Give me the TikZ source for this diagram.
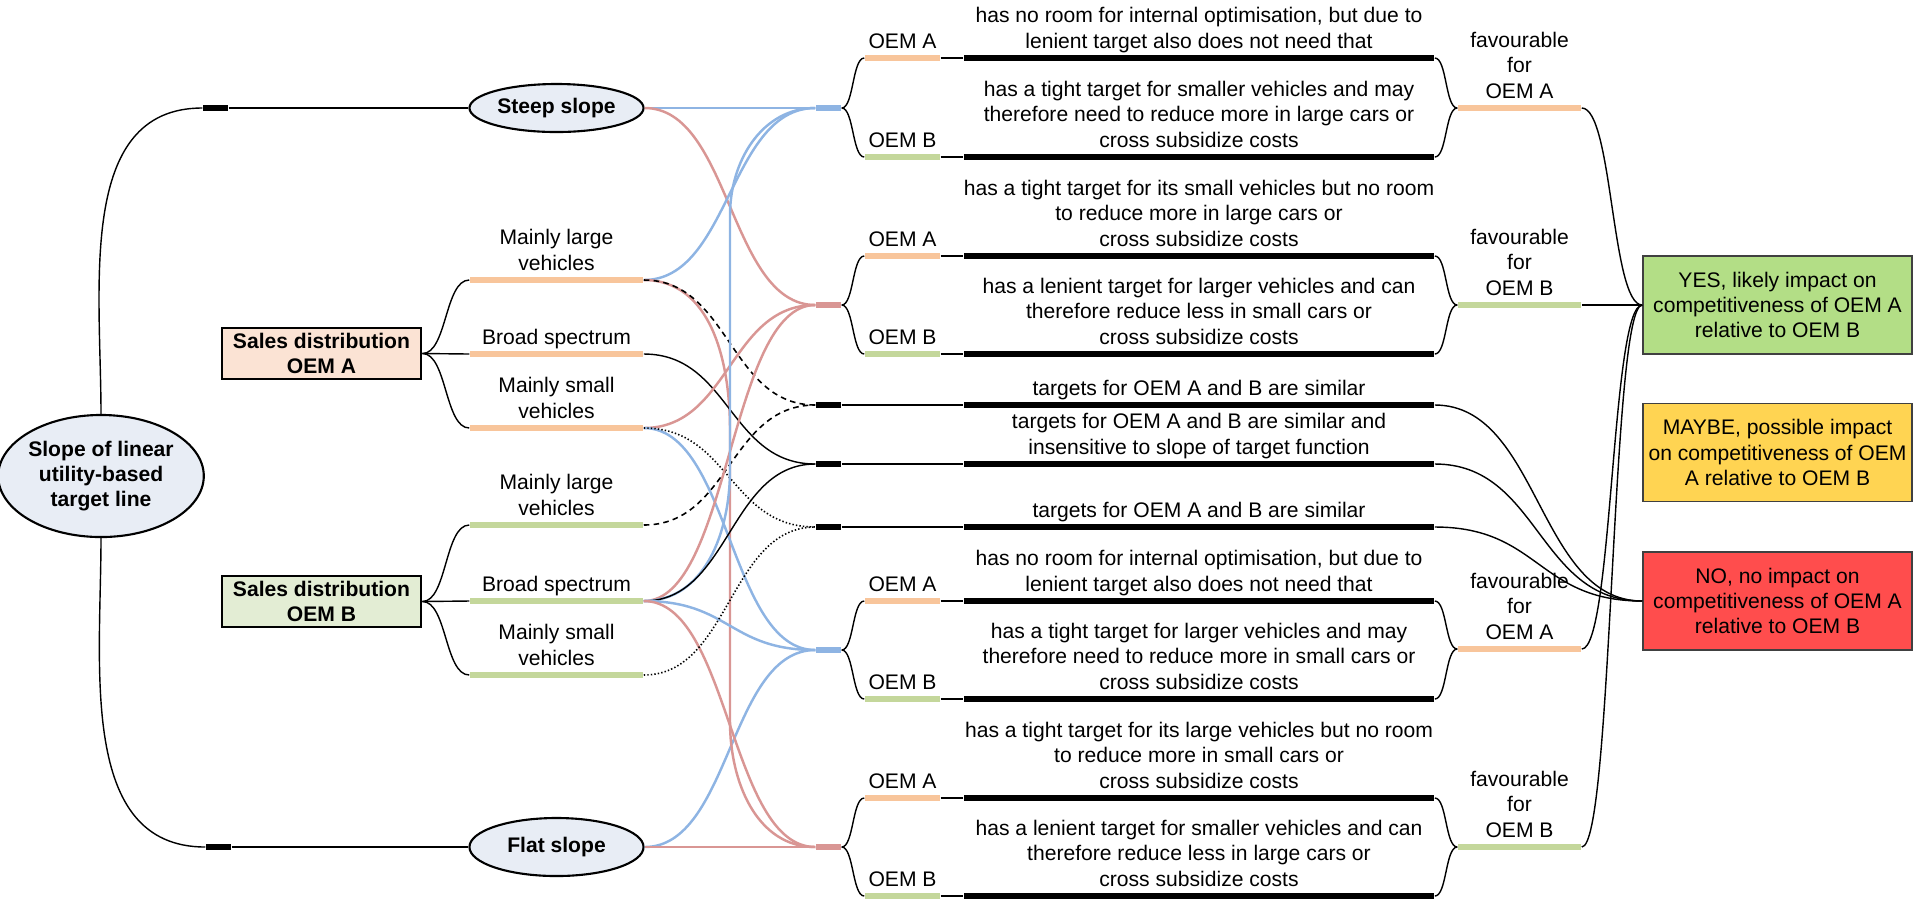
\documentclass[tikz,border=0pt]{standalone}
\usepackage{fontspec}
\setmainfont{Liberation Sans}
\usetikzlibrary{positioning,shapes.geometric}

\definecolor{ellfill}{HTML}{E8EDF5}
\definecolor{peach}{HTML}{F8C59B}
\definecolor{peachfill}{HTML}{FBE3D4}
\definecolor{leaf}{HTML}{C4D79B}
\definecolor{leaffill}{HTML}{E3EDD4}
\definecolor{bluec}{HTML}{8EB4E3}
\definecolor{redc}{HTML}{D99694}
\definecolor{yesfill}{HTML}{B3DE86}
\definecolor{maybefill}{HTML}{FFD452}
\definecolor{nofill}{HTML}{FF4D4D}

\begin{document}
\begin{tikzpicture}[x=0.01cm, y=-0.01cm,
    every node/.style={font=\fontsize{6}{7.2}\selectfont},
    txt/.style={align=center, inner sep=0pt, execute at end node=\strut},
    bar/.style={rectangle, inner sep=0pt, minimum height=0.055cm, fill=#1},
    ell/.style={ellipse, draw, line width=0.6pt, fill=ellfill, inner sep=0pt, align=center, font=\fontsize{6}{7}\selectfont\bfseries},
    sales/.style={rectangle, draw, line width=0.8pt, minimum width=1.99cm, minimum height=0.51cm, inner sep=0pt, align=center, font=\fontsize{6}{7}\selectfont\bfseries},
    res/.style={rectangle, draw=black!75, line width=0.4pt, minimum width=2.69cm, minimum height=0.98cm, inner sep=0pt, align=center},
    hs/.style={out=0, in=180, distance=#1},
    conn/.style={line width=0.4pt},
    dashlink/.style={line width=0.45pt, dash pattern=on 1.6pt off 1.2pt},
    dotlink/.style={line width=0.45pt, dash pattern=on 0.4pt off 0.6pt},
    bluelink/.style={line width=0.7pt, bluec},
    redlink/.style={line width=0.7pt, redc}]

    \useasboundingbox (0,0) rectangle (1913,899);

    % Slope of target line
    \node[ell, minimum width=1.97cm, minimum height=1.22cm] (root) at (101,476) {Slope of linear\\utility-based\\target line};
    \node[bar=black, minimum width=0.25cm, minimum height=0.06cm] (s1) at (215.5,108) {};
    \node[bar=black, minimum width=0.25cm, minimum height=0.06cm] (s2) at (218.5,847) {};
    \node[ell, minimum width=1.74cm, minimum height=0.48cm] (steep) at (556.5,108) {Steep slope};
    \node[ell, minimum width=1.74cm, minimum height=0.58cm] (flat) at (556.5,847) {Flat slope};
    \draw[conn] (root.north) to[out=90, in=180] (s1.west);
    \draw[conn] (s1.east) -- (steep.west);
    \draw[conn] (root.south) to[out=-90, in=180] (s2.west);
    \draw[conn] (s2.east) -- (flat.west);

    % Sales distribution OEM A
    \node[sales, fill=peachfill] (sa) at (321.5,353.5) {Sales distribution\\OEM A};
    \node[bar=peach, minimum width=1.73cm] (aL) at (556.5,280) {};
    \node[bar=peach, minimum width=1.73cm] (aB) at (556.5,354) {};
    \node[bar=peach, minimum width=1.73cm] (aS) at (556.5,428) {};
    \node[txt, above=-0.02cm of aL] (aLt) {Mainly large\\vehicles};
    \node[txt, above=-0.02cm of aB] (aBt) {Broad spectrum};
    \node[txt, above=-0.02cm of aS] (aSt) {Mainly small\\vehicles};
    \draw[conn] (sa.east) to[hs=0.245cm] (aL.west);
    \draw[conn] (sa.east) -- (aB.west);
    \draw[conn] (sa.east) to[hs=0.245cm] (aS.west);

    % Sales distribution OEM B
    \node[sales, fill=leaffill] (sb) at (321.5,601.5) {Sales distribution\\OEM B};
    \node[bar=leaf, minimum width=1.73cm] (bL) at (556.5,525) {};
    \node[bar=leaf, minimum width=1.73cm] (bB) at (556.5,601) {};
    \node[bar=leaf, minimum width=1.73cm] (bS) at (556.5,675) {};
    \node[txt, above=-0.02cm of bL] (bLt) {Mainly large\\vehicles};
    \node[txt, above=-0.02cm of bB] (bBt) {Broad spectrum};
    \node[txt, above=-0.02cm of bS] (bSt) {Mainly small\\vehicles};
    \draw[conn] (sb.east) to[hs=0.245cm] (bL.west);
    \draw[conn] (sb.east) -- (bB.west);
    \draw[conn] (sb.east) to[hs=0.245cm] (bS.west);

    % Junctions
    \node[bar=bluec, minimum width=0.25cm, minimum height=0.065cm] (j1) at (828.5,108) {};
    \node[bar=redc, minimum width=0.25cm, minimum height=0.065cm] (j2) at (828.5,305) {};
    \node[bar=black, minimum width=0.25cm, minimum height=0.065cm] (j3) at (828.5,405) {};
    \node[bar=black, minimum width=0.25cm, minimum height=0.065cm] (j4) at (828.5,464) {};
    \node[bar=black, minimum width=0.25cm, minimum height=0.065cm] (j5) at (828.5,527) {};
    \node[bar=bluec, minimum width=0.25cm, minimum height=0.065cm] (j6) at (828.5,650) {};
    \node[bar=redc, minimum width=0.25cm, minimum height=0.065cm] (j7) at (828.5,847) {};

    % Links into the junctions
    \draw[bluelink] (steep.east) -- (j1.west);
    \draw[redlink] (steep.east) to[hs=0.86cm] (j2.west);
    \draw[bluelink] (flat.east) to[hs=0.86cm] (j6.west);
    \draw[redlink] (flat.east) -- (j7.west);
    \draw[bluelink] (aL.east) to[hs=0.86cm] (j1.west);
    \draw[redlink] (aL.east) to[out=0, in=90] (730,430) -- (730,722) to[out=-90, in=180] (j7.west);
    \draw[dashlink] (aL.east) to[hs=0.86cm] (j3.west);
    \draw[conn] (aB.east) to[hs=0.86cm] (j4.west);
    \draw[redlink] (aS.east) to[hs=0.86cm] (j2.west);
    \draw[bluelink] (aS.east) to[hs=0.86cm] (j6.west);
    \draw[dotlink] (aS.east) to[hs=0.86cm] (j5.west);
    \draw[dashlink] (bL.east) to[hs=0.86cm] (j3.west);
    \draw[redlink] (bB.east) to[hs=0.86cm] (j2.west);
    \draw[bluelink] (bB.east) to[out=0, in=-90] (730,470) -- (730,215) to[out=90, in=180] (j1.west);
    \draw[conn] (bB.east) to[hs=0.86cm] (j4.west);
    \draw[bluelink] (bB.east) to[hs=0.86cm] (j6.west);
    \draw[redlink] (bB.east) to[hs=0.86cm] (j7.west);
    \draw[dotlink] (bS.east) to[hs=0.86cm] (j5.west);

    % OEM bars
    \node[bar=peach, minimum width=0.75cm] (oa1) at (902.5,58) {};
    \node[bar=leaf, minimum width=0.75cm] (ob1) at (902.5,157) {};
    \node[bar=peach, minimum width=0.75cm] (oa2) at (902.5,256) {};
    \node[bar=leaf, minimum width=0.75cm] (ob2) at (902.5,354) {};
    \node[bar=peach, minimum width=0.75cm] (oa3) at (902.5,601) {};
    \node[bar=leaf, minimum width=0.75cm] (ob3) at (902.5,699) {};
    \node[bar=peach, minimum width=0.75cm] (oa4) at (902.5,798) {};
    \node[bar=leaf, minimum width=0.75cm] (ob4) at (902.5,896) {};
    \node[txt, above=-0.02cm of oa1] (oa1t) {OEM A};
    \node[txt, above=-0.02cm of ob1] (ob1t) {OEM B};
    \node[txt, above=-0.02cm of oa2] (oa2t) {OEM A};
    \node[txt, above=-0.02cm of ob2] (ob2t) {OEM B};
    \node[txt, above=-0.02cm of oa3] (oa3t) {OEM A};
    \node[txt, above=-0.02cm of ob3] (ob3t) {OEM B};
    \node[txt, above=-0.02cm of oa4] (oa4t) {OEM A};
    \node[txt, above=-0.02cm of ob4] (ob4t) {OEM B};
    \draw[conn] (j1.east) to[hs=0.12cm] (oa1.west);
    \draw[conn] (j1.east) to[hs=0.12cm] (ob1.west);
    \draw[conn] (j2.east) to[hs=0.12cm] (oa2.west);
    \draw[conn] (j2.east) to[hs=0.12cm] (ob2.west);
    \draw[conn] (j6.east) to[hs=0.12cm] (oa3.west);
    \draw[conn] (j6.east) to[hs=0.12cm] (ob3.west);
    \draw[conn] (j7.east) to[hs=0.12cm] (oa4.west);
    \draw[conn] (j7.east) to[hs=0.12cm] (ob4.west);

    % Statements
    \node[bar=black, minimum width=4.70cm, minimum height=0.06cm] (ka1) at (1199,58) {};
    \node[bar=black, minimum width=4.70cm, minimum height=0.06cm] (kb1) at (1199,157) {};
    \node[bar=black, minimum width=4.70cm, minimum height=0.06cm] (ka2) at (1199,256) {};
    \node[bar=black, minimum width=4.70cm, minimum height=0.06cm] (kb2) at (1199,354) {};
    \node[bar=black, minimum width=4.70cm, minimum height=0.06cm] (k3) at (1199,405) {};
    \node[bar=black, minimum width=4.70cm, minimum height=0.06cm] (k4) at (1199,464) {};
    \node[bar=black, minimum width=4.70cm, minimum height=0.06cm] (k5) at (1199,527) {};
    \node[bar=black, minimum width=4.70cm, minimum height=0.06cm] (ka3) at (1199,601) {};
    \node[bar=black, minimum width=4.70cm, minimum height=0.06cm] (kb3) at (1199,699) {};
    \node[bar=black, minimum width=4.70cm, minimum height=0.06cm] (ka4) at (1199,798) {};
    \node[bar=black, minimum width=4.70cm, minimum height=0.06cm] (kb4) at (1199,896) {};
    \node[txt, above=-0.02cm of ka1] (ka1t) {has no room for internal optimisation, but due to\\lenient target also does not need that};
    \node[txt, above=-0.02cm of kb1] (kb1t) {has a tight target for smaller vehicles and may\\therefore need to reduce more in large cars or\\cross subsidize costs};
    \node[txt, above=-0.02cm of ka2] (ka2t) {has a tight target for its small vehicles but no room\\to reduce more in large cars or\\cross subsidize costs};
    \node[txt, above=-0.02cm of kb2] (kb2t) {has a lenient target for larger vehicles and can\\therefore reduce less in small cars or\\cross subsidize costs};
    \node[txt, above=-0.02cm of k3] (k3t) {targets for OEM A and B are similar};
    \node[txt, above=-0.02cm of k4] (k4t) {targets for OEM A and B are similar and\\insensitive to slope of target function};
    \node[txt, above=-0.02cm of k5] (k5t) {targets for OEM A and B are similar};
    \node[txt, above=-0.02cm of ka3] (ka3t) {has no room for internal optimisation, but due to\\lenient target also does not need that};
    \node[txt, above=-0.02cm of kb3] (kb3t) {has a tight target for larger vehicles and may\\therefore need to reduce more in small cars or\\cross subsidize costs};
    \node[txt, above=-0.02cm of ka4] (ka4t) {has a tight target for its large vehicles but no room\\to reduce more in small cars or\\cross subsidize costs};
    \node[txt, above=-0.02cm of kb4] (kb4t) {has a lenient target for smaller vehicles and can\\therefore reduce less in large cars or\\cross subsidize costs};
    \draw[conn] (oa1.east) -- (ka1.west);
    \draw[conn] (ob1.east) -- (kb1.west);
    \draw[conn] (oa2.east) -- (ka2.west);
    \draw[conn] (ob2.east) -- (kb2.west);
    \draw[conn] (j3.east) -- (k3.west);
    \draw[conn] (j4.east) -- (k4.west);
    \draw[conn] (j5.east) -- (k5.west);
    \draw[conn] (oa3.east) -- (ka3.west);
    \draw[conn] (ob3.east) -- (kb3.west);
    \draw[conn] (oa4.east) -- (ka4.west);
    \draw[conn] (ob4.east) -- (kb4.west);

    % Favourable for
    \node[bar=peach, minimum width=1.23cm] (fa1) at (1519.5,108) {};
    \node[bar=leaf, minimum width=1.23cm] (fb1) at (1519.5,305) {};
    \node[bar=peach, minimum width=1.23cm] (fa2) at (1519.5,649) {};
    \node[bar=leaf, minimum width=1.23cm] (fb2) at (1519.5,847) {};
    \node[txt, above=-0.02cm of fa1] (fa1t) {favourable\\for\\OEM A};
    \node[txt, above=-0.02cm of fb1] (fb1t) {favourable\\for\\OEM B};
    \node[txt, above=-0.02cm of fa2] (fa2t) {favourable\\for\\OEM A};
    \node[txt, above=-0.02cm of fb2] (fb2t) {favourable\\for\\OEM B};
    \draw[conn] (ka1.east) to[hs=0.12cm] (fa1.west);
    \draw[conn] (kb1.east) to[hs=0.12cm] (fa1.west);
    \draw[conn] (ka2.east) to[hs=0.12cm] (fb1.west);
    \draw[conn] (kb2.east) to[hs=0.12cm] (fb1.west);
    \draw[conn] (ka3.east) to[hs=0.12cm] (fa2.west);
    \draw[conn] (kb3.east) to[hs=0.12cm] (fa2.west);
    \draw[conn] (ka4.east) to[hs=0.12cm] (fb2.west);
    \draw[conn] (kb4.east) to[hs=0.12cm] (fb2.west);

    % Results
    \node[res, fill=yesfill] (yes) at (1777.5,305) {YES, likely impact on\\competitiveness of OEM A\\relative to OEM B};
    \node[res, fill=maybefill] (maybe) at (1777.5,452.5) {MAYBE, possible impact\\on competitiveness of OEM\\A relative to OEM B};
    \node[res, fill=nofill] (no) at (1777.5,601) {NO, no impact on\\competitiveness of OEM A\\relative to OEM B};
    \draw[conn] (fa1.east) to[hs=0.31cm] (yes.west);
    \draw[conn] (fb1.east) -- (yes.west);
    \draw[conn] (fa2.east) to[hs=0.31cm] (yes.west);
    \draw[conn] (fb2.east) to[hs=0.31cm] (yes.west);
    \draw[conn] (k3.east) to[hs=1.045cm] (no.west);
    \draw[conn] (k4.east) to[hs=1.045cm] (no.west);
    \draw[conn] (k5.east) to[hs=1.045cm] (no.west);
\end{tikzpicture}
\end{document}
